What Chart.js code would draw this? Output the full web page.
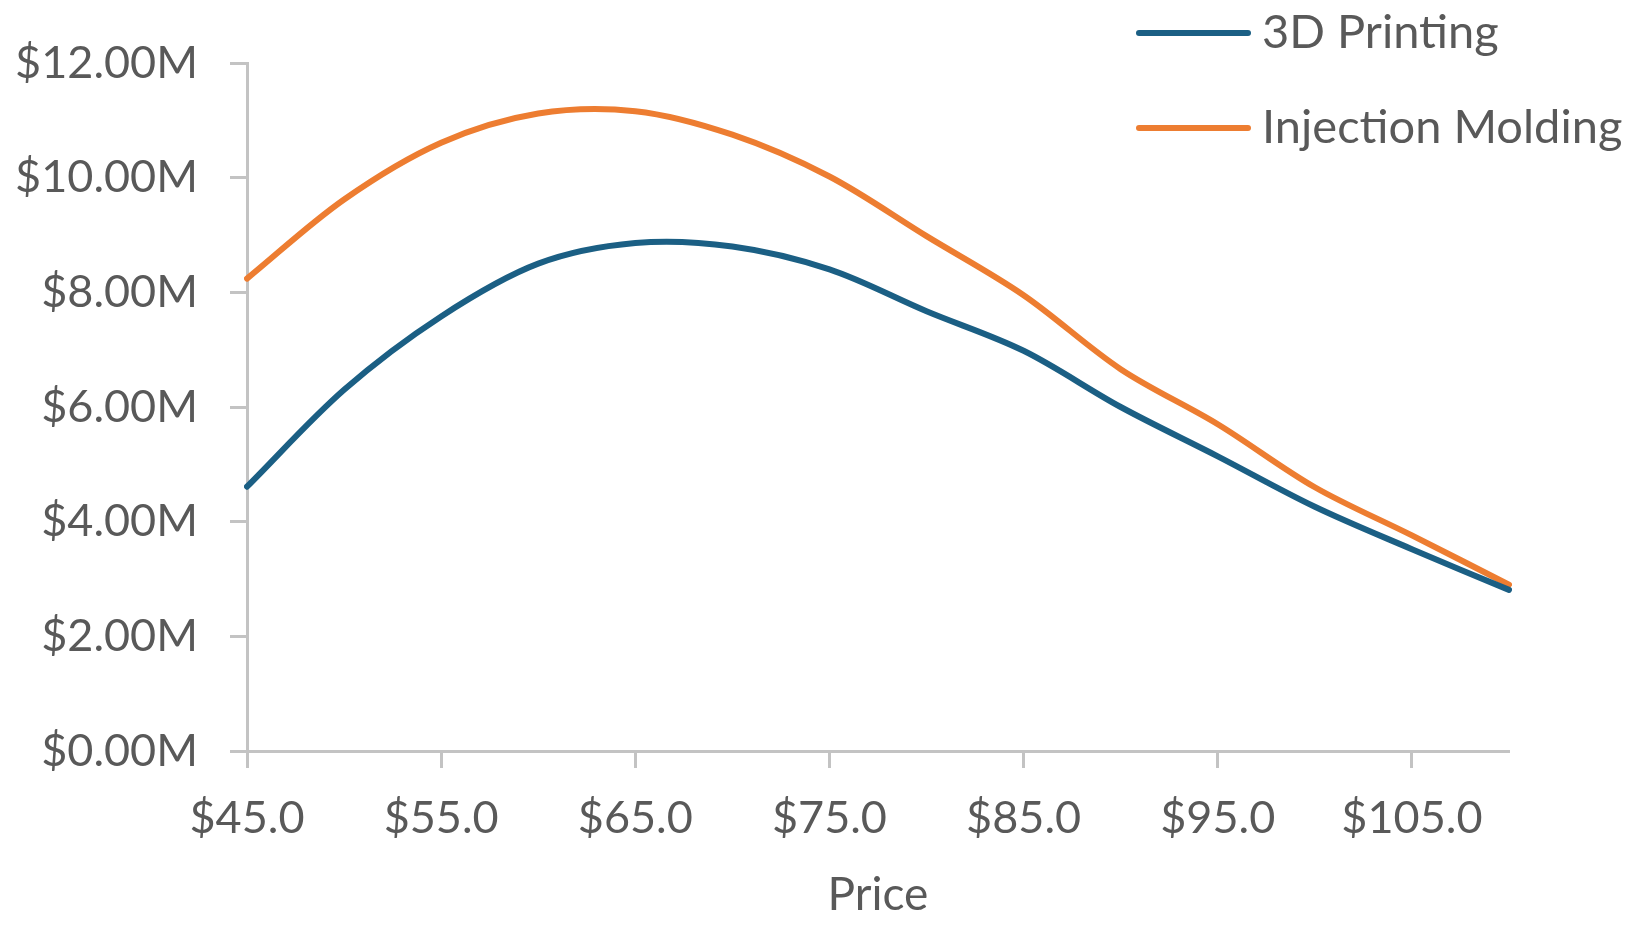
<!DOCTYPE html>
<html>
<head>
<meta charset="utf-8">
<title>Revenue by Price</title>
<style>
  html, body { margin: 0; padding: 0; background: #ffffff; }
  #wrap { width: 1633px; height: 926px; position: relative; }
</style>
<script src="https://cdn.jsdelivr.net/npm/chart.js@4.4.1/dist/chart.umd.min.js"></script>
</head>
<body>
<div id="wrap"><canvas id="chart" width="1633" height="926"></canvas></div>
<script>
// Price points (categories) and revenue per process, in $ millions
const prices = [45, 50, 55, 60, 65, 70, 75, 80, 85, 90, 95, 100, 105, 110];
const printing3D = [4.61, 6.30, 7.58, 8.50, 8.86, 8.80, 8.40, 7.67, 6.98, 6.00, 5.14, 4.26, 3.52, 2.81];
const injectionMolding = [8.24, 9.62, 10.61, 11.12, 11.16, 10.75, 10.02, 8.98, 7.95, 6.66, 5.70, 4.60, 3.76, 2.90];
const revenueTicks = [0, 2, 4, 6, 8, 10, 12];
const seriesNames = ['3D Printing', 'Injection Molding'];
const seriesColors = ['#1b5f84', '#ed7d31'];

const TEXT = '#595959';
const AXIS = '#c3c3c3';
const FONT = 'Lato, "Noto Sans", sans-serif';

// Legend drawn in the upper-right corner, overlapping the plot like the source workbook
const cornerLegend = {
  id: 'cornerLegend',
  afterDraw(chart) {
    const ctx = chart.ctx;
    const rows = [33, 128];
    ctx.save();
    chart.data.datasets.forEach((ds, i) => {
      const y = rows[i];
      ctx.strokeStyle = ds.borderColor;
      ctx.lineWidth = 6;
      ctx.lineCap = 'round';
      ctx.beginPath();
      ctx.moveTo(1139, y);
      ctx.lineTo(1248, y);
      ctx.stroke();
      ctx.fillStyle = TEXT;
      ctx.font = '47px ' + FONT;
      ctx.textAlign = 'left';
      ctx.textBaseline = 'middle';
      ctx.fillText(ds.label, 1262, y);
    });
    ctx.restore();
  }
};

new Chart(document.getElementById('chart'), {
  type: 'line',
  data: {
    labels: prices,
    datasets: [
      { label: seriesNames[0], data: printing3D, borderColor: seriesColors[0], backgroundColor: seriesColors[0] },
      { label: seriesNames[1], data: injectionMolding, borderColor: seriesColors[1], backgroundColor: seriesColors[1] }
    ]
  },
  options: {
    responsive: false,
    animation: false,
    devicePixelRatio: 1,
    layout: { padding: { left: 0, right: 124, top: 63, bottom: 0 } },
    elements: {
      line: { borderWidth: 6, tension: 0.33, borderCapStyle: 'round', borderJoinStyle: 'round' },
      point: { radius: 0, hoverRadius: 0 }
    },
    plugins: {
      legend: { display: false },
      tooltip: { enabled: false }
    },
    scales: {
      x: {
        type: 'category',
        offset: false,
        afterBuildTicks(scale) {
          scale.ticks = scale.ticks.filter((t, i) => i % 2 === 0);
        },
        afterFit(scale) { scale.height = 175; },
        ticks: {
          autoSkip: false,
          maxRotation: 0,
          padding: 23,
          color: TEXT,
          font: { family: FONT, size: 45 },
          callback(value) { return '$' + Number(this.getLabelForValue(value)).toFixed(1); }
        },
        grid: { display: true, drawOnChartArea: false, drawTicks: true, tickLength: 17, tickWidth: 3, tickColor: AXIS },
        border: { display: true, color: AXIS, width: 3 },
        title: {
          display: true,
          text: 'Price',
          color: TEXT,
          font: { family: FONT, size: 46 },
          padding: { top: 0, bottom: 3 }
        }
      },
      y: {
        min: 0,
        max: 12,
        afterBuildTicks(scale) {
          scale.ticks = revenueTicks.map(v => ({ value: v }));
        },
        afterFit(scale) { scale.width = 247; },
        ticks: {
          padding: 32,
          color: TEXT,
          font: { family: FONT, size: 45 },
          callback(value) { return '$' + value.toFixed(2) + 'M'; }
        },
        grid: { display: true, drawOnChartArea: false, drawTicks: true, tickLength: 17, tickWidth: 3, tickColor: AXIS },
        border: { display: true, color: AXIS, width: 3 }
      }
    }
  },
  plugins: [cornerLegend]
});
</script>
</body>
</html>
